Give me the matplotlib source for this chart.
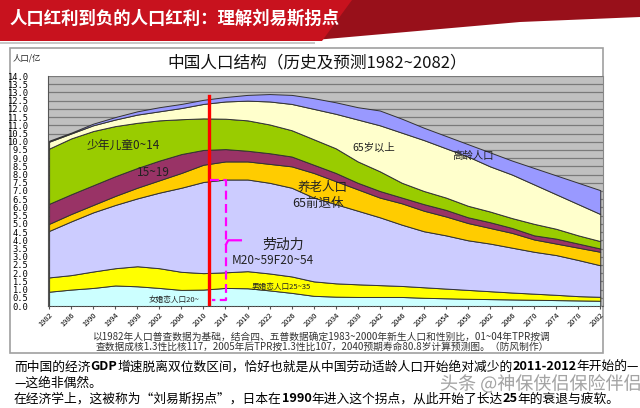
import matplotlib
matplotlib.use("Agg")
import matplotlib.pyplot as plt
import matplotlib.patches as mpatches
import matplotlib.patheffects as pe

plt.rcParams['font.family'] = ['Noto Sans CJK SC', 'DejaVu Sans']

# Data: band thickness per year (100 million people), bottom to top
years = list(range(1982, 2083, 4))
female_marriage = [0.87, 1.0, 1.1, 1.25, 1.2, 1.1, 0.98, 1.0, 1.1, 1.08, 0.95, 0.8, 0.62,
                   0.57, 0.55, 0.55, 0.55, 0.5, 0.47, 0.44, 0.42, 0.4, 0.38, 0.36, 0.34, 0.32]
male_marriage = [0.87, 0.88, 1.0, 1.05, 1.22, 1.2, 1.1, 1.0, 0.95, 1.04, 1.03, 1.0, 0.88,
                 0.81, 0.77, 0.72, 0.67, 0.64, 0.59, 0.54, 0.48, 0.42, 0.37, 0.32, 0.26, 0.24]
labour = [2.83, 3.27, 3.6, 3.85, 4.13, 4.6, 5.12, 5.55, 5.65, 5.58, 5.52, 5.4, 5.1,
          4.82, 4.48, 4.13, 3.73, 3.41, 3.24, 3.02, 2.9, 2.73, 2.55, 2.42, 2.2, 1.92]
retired = [0.43, 0.45, 0.45, 0.55, 0.65, 0.75, 0.9, 1.05, 1.1, 1.1, 1.15, 1.3, 1.5,
           1.4, 1.3, 1.2, 1.3, 1.25, 1.15, 1.05, 0.95, 0.9, 0.75, 0.7, 0.75, 0.82]
teen = [1.22, 1.2, 1.2, 1.2, 1.2, 1.2, 1.15, 0.9, 0.75, 0.65, 0.65, 0.6, 0.5,
        0.5, 0.4, 0.4, 0.35, 0.4, 0.4, 0.35, 0.35, 0.3, 0.25, 0.3, 0.25, 0.2]
children = [3.36, 3.4, 3.3, 3.05, 2.75, 2.45, 2.12, 1.92, 1.85, 1.85, 1.75, 1.6, 1.55,
            1.5, 1.3, 1.2, 0.9, 0.8, 0.75, 0.7, 0.65, 0.6, 0.7, 0.6, 0.5, 0.45]
over65 = [0.42, 0.3, 0.35, 0.4, 0.5, 0.55, 0.68, 0.88, 1.05, 1.2, 1.4, 1.6, 1.85,
          2.1, 2.55, 2.8, 3.05, 3.1, 3.0, 3.0, 2.75, 2.65, 2.4, 2.1, 1.9, 1.65]
elderly = [0.06, 0.05, 0.1, 0.15, 0.2, 0.25, 0.25, 0.25, 0.27, 0.35, 0.45, 0.55, 0.65,
           0.7, 0.75, 0.9, 0.85, 0.75, 0.75, 0.75, 0.85, 0.85, 1.0, 1.15, 1.3, 1.45]

band_colors = ['#ccffff', '#ffff00', '#ccccff', '#ffcc00', '#993366', '#99cc00', '#ffffcc', '#9999ff']

turn_year = 2011
turn_top = 12.8

W, H = 640, 408
fig = plt.figure(figsize=(6.4, 4.08), dpi=100)


def fx(x):
    return x / W


def fy(y):
    return 1 - y / H


# red title banner
fig.add_artist(mpatches.Polygon([(fx(330), fy(0)), (fx(640), fy(0)), (fx(640), fy(17)),
                                 (fx(520), fy(22)), (fx(315), fy(40))],
                                closed=True, transform=fig.transFigure, color='#98101a', lw=0))
fig.add_artist(mpatches.Polygon([(0, fy(0)), (fx(352), fy(0)), (fx(322), fy(41)), (0, fy(41))],
                                closed=True, transform=fig.transFigure, color='#c8121e', lw=0))
fig.add_artist(mpatches.Rectangle((0, fy(44)), fx(315), 2 / H, transform=fig.transFigure,
                                  color='#c8c8c8', lw=0))
fig.text(fx(10), fy(19), '人口红利到负的人口红利：理解刘易斯拐点', color='white',
         fontsize=12.5, fontweight='bold', va='center', ha='left')

# chart frame (behind the axes)
fig.add_artist(mpatches.Rectangle((fx(10), fy(353)), fx(603 - 10), (353 - 48) / H,
                                  transform=fig.transFigure, facecolor='white',
                                  edgecolor='#a0a0a0', lw=1.2, zorder=-5))

ax = fig.add_axes([fx(48), fy(306), fx(603 - 48), (306 - 76) / H])
ax.set_zorder(2)
ax.set_facecolor('#c0c0c0')
ax.stackplot(years, female_marriage, male_marriage, labour, retired, teen, children,
             over65, elderly, colors=band_colors, edgecolor='#333333', linewidth=0.7)
ax.set_xlim(1981.8, 2082.5)
ax.set_ylim(0, 14)
ax.set_yticks([i * 0.5 for i in range(29)])
ax.set_yticklabels([f'{i * 0.5:.1f}' for i in range(29)], family='DejaVu Sans Mono', fontsize=6.3)
ax.tick_params(axis='y', length=0, pad=14)
ax.yaxis.grid(True, color='#7a7a7a', lw=0.9)
ax.set_axisbelow(True)
ax.set_xticks(years)
ax.set_xticklabels([str(y) for y in years], rotation=45, ha='right', rotation_mode='anchor',
                   fontsize=5.3)
ax.tick_params(axis='x', length=2, pad=2, color='#555555')
ax.spines['top'].set_visible(False)
ax.spines['left'].set_color('#555555')
ax.spines['right'].set_color('#888888')
ax.spines['bottom'].set_color('#555555')
ax.spines['bottom'].set_linestyle(':')

# turning point marks
ax.plot([turn_year, turn_year], [0, turn_top], color='#ff0000', lw=2.4, zorder=5)
ax.plot([2011.2, 2014.1, 2014.1, 2011.5], [7.7, 7.7, 0.36, 0.36], color='#ff00ff',
        lw=1.6, ls=(0, (4, 2)), zorder=5)
ax.plot([2014.1, 2014.5, 2016.8], [3.75, 4.0, 4.0], color='#ff00ff', lw=1.6, zorder=5)

# band labels
lab = dict(color='#222222', va='center', ha='left', zorder=6)
ax.text(1988.9, 9.76, '少年儿童0~14', fontsize=8.5, **lab)
ax.text(1998.0, 8.1, '15~19', fontsize=8.5, **lab)
ax.text(2037.0, 9.64, '65岁以上', fontsize=7.5, **lab)
ax.text(2055.1, 9.15, '高龄人口', fontsize=7.5, **lab)
ax.text(2027.0, 7.2, '养老人口', fontsize=9, **lab)
ax.text(2026.1, 6.24, '65前退休', fontsize=9, **lab)
ax.text(2020.7, 3.7, '劳动力', fontsize=10, **lab)
ax.text(2015.2, 2.8, 'M20~59F20~54', fontsize=8.5, **lab)
ax.text(2018.8, 1.15, '男婚恋人口25~35', fontsize=5.5, **lab)
ax.text(2000.0, 0.36, '女婚恋人口20~', fontsize=5.5, **lab)

fig.text(fx(317), fy(63), '中国人口结构（历史及预测1982~2082）', fontsize=12,
         ha='center', va='center', color='#111111')
fig.text(fx(13), fy(58), '人口/亿', fontsize=6, ha='left', va='center', color='#222222')
fig.text(fx(322), fy(337), '以1982年人口普查数据为基础，结合四、五普数据确定1983~2000年新生人口和性别比，01~04年TPR按调',
         fontsize=7, ha='center', va='center', color='#333333')
fig.text(fx(322), fy(347), '查数据成核1.3性比核117，2005年后TPR按1.3性比107，2040预期寿命80.8岁计算预测图。（防风制作）',
         fontsize=7, ha='center', va='center', color='#333333')

# body text with bold runs
renderer = fig.canvas.get_renderer()


def rich_line(x, y, parts, size=9.2):
    xf = fx(x)
    for s, bold in parts:
        t = fig.text(xf, fy(y), s, fontsize=size, fontweight='bold' if bold else 'normal',
                     ha='left', va='center', color='black')
        xf += t.get_window_extent(renderer=renderer).width / fig.bbox.width


fig.text(fx(440), fy(384), '头条 @神保侠侣保险伴侣', fontsize=13, color='#9a9a9a', alpha=0.9,
         ha='left', va='center',
         path_effects=[pe.withStroke(linewidth=2, foreground='white')])
rich_line(14, 367, [('而中国的经济', False), ('GDP', True), ('增速脱离双位数区间，恰好也就是从中国劳动适龄人口开始绝对减少的', False),
                    ('2011-2012', True), ('年开始的—', False)])
rich_line(14, 383, [('—这绝非偶然。', False)])
rich_line(14, 399, [('在经济学上，这被称为“刘易斯拐点”，日本在', False), ('1990', True),
                    ('年进入这个拐点，从此开始了长达', False), ('25', True), ('年的衰退与疲软。', False)])

fig.savefig('out.png', dpi=100)
